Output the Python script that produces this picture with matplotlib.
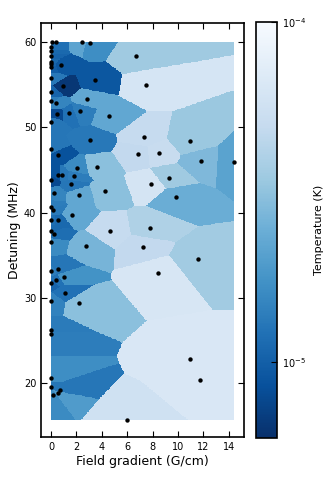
import numpy as np
import matplotlib
matplotlib.use("Agg")
import matplotlib.pyplot as plt
from matplotlib.colors import LogNorm

# Measurement points: field gradient (G/cm), detuning (MHz), temperature (1e-5 K)
gradient = [0.05, 0.41, 2.45, 3.05, 6.67, 7.5, 0.0, 0.0, 0.0, 0.0, 0.0, 0.0, 0.8,
            0.0, 0.94, 3.48, 0.0, 2.84, 0.0, 0.37, 0.47, 1.38, 2.32, 4.59, 0.0,
            3.05, 0.0, 0.52, 7.31, 10.92, 6.86, 8.5, 11.8, 14.41, 9.3, 7.87, 9.85,
            7.8, 7.25, 11.55, 8.44, 10.97, 11.75, 5.97, 3.62, 2.06, 0.51, 0.86,
            1.82, 0.0, 1.59, 0.23, 2.17, 4.28, 0.0, 0.16, 1.67, 0.0, 0.51, 4.61,
            0.0, 0.23, 0.0, 2.76, 0.0, 0.55, 1.04, 0.0, 0.41, 1.12, 0.0, 2.24,
            0.0, 0.0, 0.0, 0.0, 0.68, 0.57, 0.18]
detuning = [60.0, 60.0, 60.0, 59.9, 58.3, 55.0, 59.45, 58.9, 58.4, 57.7, 57.4, 57.1, 57.3,
            55.8, 54.8, 55.5, 54.1, 53.3, 53.1, 52.8, 51.6, 51.65, 51.9, 51.3, 50.6,
            48.5, 47.5, 46.7, 48.9, 48.4, 46.9, 47.0, 46.0, 45.9, 44.1, 43.35, 41.8,
            38.25, 35.97, 34.56, 32.9, 22.8, 20.4, 15.7, 45.4, 45.2, 44.4, 44.4,
            44.3, 43.8, 43.3, 42.3, 42.1, 42.5, 40.6, 40.3, 39.7, 39.1, 39.1, 37.9,
            37.9, 37.5, 36.5, 36.05, 33.15, 33.4, 32.4, 31.8, 32.1, 30.6, 29.6, 29.36,
            26.2, 25.8, 20.6, 19.6, 19.2, 18.8, 18.6]
temperature = [1.28, 1.21, 2.18, 1.65, 3.53, 6.2, 1.21, 1.11, 1.05, 1.11, 1.05, 0.99, 0.91,
               1.31, 0.65, 0.91, 1.05, 2.24, 1.39, 1.51, 0.79, 1.21, 1.39, 2.24, 1.28,
               1.31, 1.28, 0.86, 4.95, 3.43, 4.81, 5.09, 2.81, 2.12, 3.53, 6.03, 2.44,
               4.05, 4.81, 3.63, 6.38, 6.55, 6.55, 5.69, 3.06, 1.6, 0.86, 1.31,
               1.39, 0.79, 1.28, 1.51, 2.24, 3.06, 1.39, 1.36, 2.24, 1.17, 1.11, 4.95,
               1.11, 1.17, 1.60, 2.66, 1.39, 1.28, 1.75, 1.05, 1.21, 1.21, 1.47, 3.06,
               1.36, 1.39, 1.65, 1.28, 1.28, 1.95, 1.60]

x = np.array(gradient)
y = np.array(detuning)
T = np.array(temperature) * 1e-5

# nearest-neighbour map
nx, ny = 400, 600
gx = np.linspace(x.min(), x.max(), nx)
gy = np.linspace(y.min(), y.max(), ny)
GX, GY = np.meshgrid(gx, gy)
d2 = (GX[..., None] - x) ** 2 + (GY[..., None] - y) ** 2
Z = T[np.argmin(d2, axis=-1)]

plt.rcParams.update({
    "xtick.direction": "in", "ytick.direction": "in",
    "xtick.top": True, "ytick.right": True,
    "xtick.major.size": 4, "ytick.major.size": 4,
})

fig = plt.figure(figsize=(3.28, 4.82), dpi=100)
ax = fig.add_axes([41/328, 45/482, 203/328, 414.3/482])
cax = fig.add_axes([256/328, 44/482, 21/328, 416/482])

norm = LogNorm(vmin=5.97e-6, vmax=1e-4)
im = ax.imshow(Z, origin="lower", extent=[x.min(), x.max(), y.min(), y.max()],
               aspect="auto", cmap="Blues_r", norm=norm, interpolation="nearest")
ax.scatter(x, y, s=10, c="k", zorder=3, linewidths=0)
ax.set_xlim(-0.79, 15.2)
ax.set_ylim(13.7, 62.26)
ax.set_xticks(np.arange(0, 15, 2))
ax.set_yticks([20, 30, 40, 50, 60])
ax.tick_params(labelsize=7)
ax.set_xlabel("Field gradient (G/cm)", fontsize=9, labelpad=2)
ax.set_ylabel("Detuning (MHz)", fontsize=9, labelpad=2)
for s in ax.spines.values():
    s.set_linewidth(1.2)

cb = fig.colorbar(im, cax=cax)
cb.set_ticks([1e-5, 1e-4])
cb.ax.minorticks_off()
cb.ax.tick_params(labelsize=7, direction="in", length=4)
cb.set_label("Temperature (K)", fontsize=8, labelpad=6)
cb.outline.set_linewidth(1.2)

fig.savefig("out.png", dpi=100)
